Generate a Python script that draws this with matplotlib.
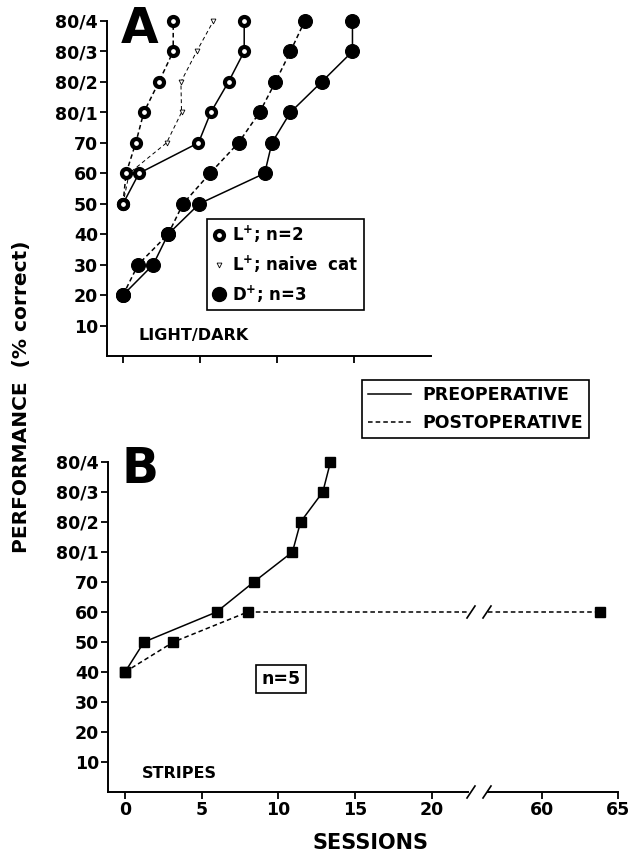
import numpy as np
import matplotlib
matplotlib.use("Agg")
import matplotlib.pyplot as plt
from matplotlib.lines import Line2D

plt.rcParams['font.family'] = ['DejaVu Sans']
plt.rcParams['font.weight'] = 'bold'

# performance levels on the y axis (category order)
levels = ['10', '20', '30', '40', '50', '60', '70', '80/1', '80/2', '80/3', '80/4']

# Panel A: light/dark discrimination
lp_pre_x = [0, 1.04, 4.9, 5.7, 6.85, 7.87, 7.87]
lp_pre_y = ['50', '60', '70', '80/1', '80/2', '80/3', '80/4']
lp_post_x = [0, 0.2, 0.83, 1.35, 2.33, 3.26, 3.26]
lp_post_y = ['50', '60', '70', '80/1', '80/2', '80/3', '80/4']
naive_x = [0, 0.4, 2.83, 3.8, 3.76, 4.78, 5.87]
naive_y = ['50', '60', '70', '80/1', '80/2', '80/3', '80/4']
dp_pre_x = [0, 1.96, 2.93, 4.96, 9.2, 9.67, 10.87, 12.9, 14.9, 14.9]
dp_pre_y = ['20', '30', '40', '50', '60', '70', '80/1', '80/2', '80/3', '80/4']
dp_post_x = [0, 0.98, 2.93, 3.9, 5.65, 7.5, 8.87, 9.9, 10.87, 11.8]
dp_post_y = ['20', '30', '40', '50', '60', '70', '80/1', '80/2', '80/3', '80/4']

# Panel B: stripes
st_pre_x = [0, 1.24, 5.97, 8.4, 10.92, 11.45, 12.9, 13.4]
st_pre_y = ['40', '50', '60', '70', '80/1', '80/2', '80/3', '80/4']
st_post_x = [0, 3.16, 8.0, 63.8]
st_post_y = ['40', '50', '60', '60']

a_xticks = [0, 5, 10, 15]
b_xticks_left = [0, 5, 10, 15, 20]
b_xticks_right = [60, 65]


def lv(vals):
    return [levels.index(v) + 1 for v in vals]


W, H = 632, 858
fig = plt.figure(figsize=(W / 100, H / 100), dpi=100)


def box(l, r, t, b):
    return [l / W, 1 - b / H, (r - l) / W, (b - t) / H]


dash = (0, (3, 2))
tickfs = 12.5


def style(ax):
    for s in ['top', 'right']:
        ax.spines[s].set_visible(False)
    for s in ['left', 'bottom']:
        ax.spines[s].set_linewidth(1.4)
    ax.tick_params(direction='out', length=5, width=1.3, pad=1.5,
                   labelsize=tickfs)


# ---- panel A
axA = fig.add_axes(box(107, 431, 21, 356))
style(axA)
axA.plot(lp_pre_x, lv(lp_pre_y), '-', color='k', lw=1.1, marker='o', ms=6.5,
         mfc='white', mec='k', mew=3, zorder=3, clip_on=False)
axA.plot(lp_post_x, lv(lp_post_y), color='k', lw=1.1, ls=dash, marker='o',
         ms=6.5, mfc='white', mec='k', mew=3, zorder=3, clip_on=False)
axA.plot(naive_x, lv(naive_y), color='k', lw=0.7, ls=(0, (4, 3)), marker='v',
         ms=3.5, mfc='white', mec='k', mew=0.6, zorder=2, clip_on=False)
axA.plot(dp_pre_x, lv(dp_pre_y), '-', color='k', lw=1.1, marker='o', ms=10,
         mfc='k', mec='k', mew=0.8, zorder=3, clip_on=False)
axA.plot(dp_post_x, lv(dp_post_y), color='k', lw=1.1, ls=dash, marker='o',
         ms=10, mfc='k', mec='k', mew=0.8, zorder=3, clip_on=False)
axA.set_xlim(-1.04, 20)
axA.set_ylim(0, 11)
axA.set_yticks(range(1, 12))
axA.set_yticklabels(levels)
axA.set_xticks(a_xticks)
axA.set_xticklabels([])
fig.text(138 / W, 1 - 340 / H, 'LIGHT/DARK', fontsize=11.5, fontweight='bold',
         ha='left', va='baseline')

hA = [Line2D([], [], ls='none', marker='o', ms=6.5, mfc='white', mec='k', mew=3),
      Line2D([], [], ls='none', marker='v', ms=3.5, mfc='white', mec='k', mew=0.6),
      Line2D([], [], ls='none', marker='o', ms=10, mfc='k', mec='k')]
labA = [r'L$^{\mathbf{+}}$; n=2', r'L$^{\mathbf{+}}$; naive  cat',
        r'D$^{\mathbf{+}}$; n=3']
legA = axA.legend(hA, labA, loc='upper left',
                  bbox_to_anchor=((207 - 107) / 324, (356 - 219) / 335),
                  borderaxespad=0, frameon=True, fancybox=False,
                  edgecolor='k', framealpha=1, handlelength=0.8,
                  handletextpad=0.4, labelspacing=0.5, borderpad=0.3,
                  prop={'size': 12, 'weight': 'bold'})
legA.get_frame().set_linewidth(1.2)

fig.text(121 / W, 1 - 43 / H, 'A', fontsize=35, fontweight='heavy',
         ha='left', va='baseline')

# ---- operative legend
hOp = [Line2D([], [], color='k', lw=1.1, ls='-'),
       Line2D([], [], color='k', lw=1.1, ls=dash)]
legOp = fig.legend(hOp, ['PREOPERATIVE', 'POSTOPERATIVE'], loc='upper left',
                   bbox_to_anchor=(362 / W, 1 - 380 / H), borderaxespad=0,
                   frameon=True, fancybox=False, edgecolor='k', framealpha=1,
                   handlelength=2.5, handletextpad=0.6, labelspacing=0.55,
                   borderpad=0.35, prop={'size': 12.5, 'weight': 'bold'})
legOp.get_frame().set_linewidth(1.2)

# ---- panel B (broken x axis)
axB = fig.add_axes(box(108, 468, 462, 792))
axB2 = fig.add_axes(box(488, 618, 462, 792), sharey=axB)
style(axB)
style(axB2)
axB2.spines['left'].set_visible(False)
axB2.tick_params(axis='y', left=False, labelleft=False)
axB.set_xlim(-1.11, 22.37)
axB2.set_xlim(56.46, 65.0)
for ax in (axB, axB2):
    lo, hi = ax.get_xlim()
    # connecting lines are clipped at the break, markers are not
    ax.plot(st_pre_x, lv(st_pre_y), '-', color='k', lw=1.1, zorder=2)
    ax.plot(st_post_x, lv(st_post_y), color='k', lw=1.1, ls=dash, zorder=2)
    for xs, ys in ((st_pre_x, st_pre_y), (st_post_x, st_post_y)):
        keep = [(x, y) for x, y in zip(xs, lv(ys)) if lo <= x <= hi]
        ax.plot([k[0] for k in keep], [k[1] for k in keep], ls='none',
                marker='s', ms=7, mfc='k', mec='k', zorder=3, clip_on=False)
axB.set_ylim(0, 11)
axB.set_yticks(range(1, 12))
axB.set_yticklabels(levels)
axB.set_xticks(b_xticks_left)
axB2.set_xticks(b_xticks_right)

# break marks on the axis and the dashed line
fig.canvas.draw()
inv = fig.transFigure.inverted()
xl = axB.transAxes.transform((1, 0))[0]
xr = axB2.transAxes.transform((0, 0))[0]
for yd in (axB.transAxes.transform((0, 0))[1],
           axB.transData.transform((0, lv(['60'])[0]))[1]):
    for xc in (xl + 3, xr - 1):
        p0 = inv.transform((xc - 4, yd - 6))
        p1 = inv.transform((xc + 4, yd + 6))
        fig.add_artist(Line2D([p0[0], p1[0]], [p0[1], p1[1]], color='k',
                              lw=1.2, transform=fig.transFigure))

fig.text(281 / W, 1 - 679 / H, 'n=5', fontsize=12.5, fontweight='bold',
         ha='center', va='center',
         bbox=dict(boxstyle='square,pad=0.3', fc='white', ec='k', lw=1.2))
fig.text(142 / W, 1 - 778 / H, 'STRIPES', fontsize=11.5, fontweight='bold',
         ha='left', va='baseline')
fig.text(121 / W, 1 - 483 / H, 'B', fontsize=35, fontweight='heavy',
         ha='left', va='baseline')

fig.text(370 / W, 1 - 843 / H, 'SESSIONS', fontsize=15, fontweight='bold',
         ha='center', va='center')
fig.text(22 / W, 1 - 397 / H, 'PERFORMANCE  (% correct)', fontsize=14.5,
         fontweight='bold', rotation=90, ha='center', va='center')

fig.savefig('out.png', dpi=100)
